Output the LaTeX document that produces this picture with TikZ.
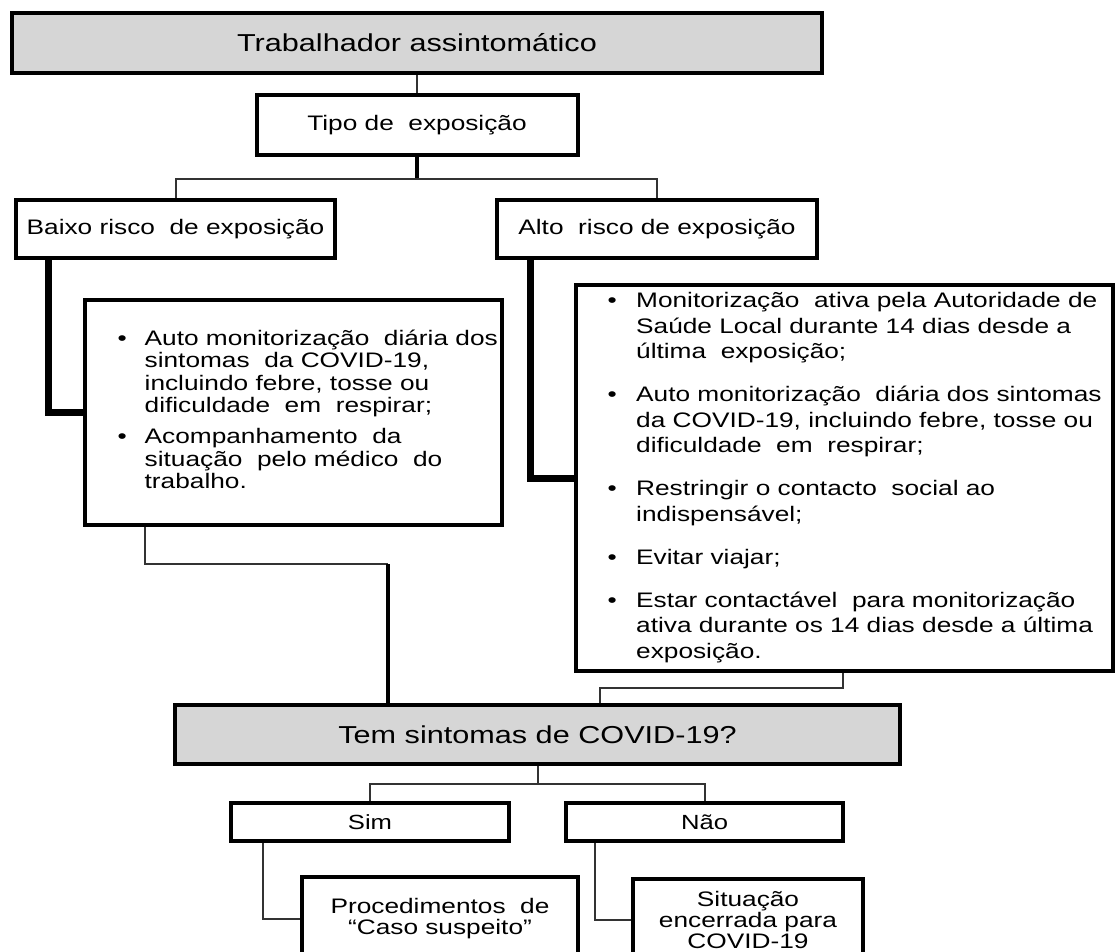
\documentclass[tikz,border=0pt]{standalone}
\usepackage{fontspec}
\setmainfont[FakeStretch=1.25]{Liberation Sans}

\begin{document}
\begin{tikzpicture}[x=1pt, y=-1pt,
  hd/.style={rectangle, draw=black, line width=4pt, fill=black!16, inner sep=0pt, font=\fontsize{24.5}{28}\selectfont},
  bx/.style={rectangle, draw=black, line width=4pt, fill=white, inner sep=0pt, align=center, font=\fontsize{21}{21}\selectfont},
  act/.style={rectangle, draw=black, line width=4pt, fill=white, inner ysep=0pt},
  ln/.style={line width=2pt, black!80},
  mid/.style={line width=3.5pt, black},
  fat/.style={line width=7pt, black}
]
\useasboundingbox (0,0) rectangle (1115,951);
\clip (0,0) rectangle (1115,951);
\node[hd, minimum width=810pt, minimum height=60pt] (trab) at (417,43) {Trabalhador assintomático};
\node[bx, minimum width=321pt, minimum height=60pt] (tipo) at (417,125) {Tipo de\ \ exposição};
\node[bx, minimum width=319pt, minimum height=58pt] (baixo) at (175.5,229) {Baixo risco\ \ de exposição};
\node[bx, minimum width=320pt, minimum height=58pt] (alto) at (657,229) {Alto\ \ risco de exposição};
\node[act, inner xsep=32.5pt, minimum height=225pt, font=\fontsize{21}{22.5}\selectfont] (baixoact) at (293.5,412.5) {\makebox[352pt][l]{\begin{tabular}{@{}l@{\hspace{18pt}}l@{}}
\textbullet & Auto monitorização\ \ diária dos\\
 & sintomas\ \ da COVID-19,\\
 & incluindo febre, tosse ou\\
 & dificuldade\ \ em\ \ respirar;\\[8.5pt]
\textbullet & Acompanhamento\ \ da\\
 & situação\ \ pelo médico\ \ do\\
 & trabalho.
\end{tabular}}};
\node[act, inner xsep=31.5pt, minimum height=386pt, font=\fontsize{21}{25.5}\selectfont] (altoact) at (844.5,478) {\makebox[474pt][l]{\begin{tabular}{@{}l@{\hspace{19.5pt}}l@{}}
\textbullet & Monitorização\ \ ativa pela Autoridade de\\
 & Saúde Local durante 14 dias desde a\\
 & última\ \ exposição;\\[17.5pt]
\textbullet & Auto monitorização\ \ diária dos sintomas\\
 & da COVID-19, incluindo febre, tosse ou\\
 & dificuldade\ \ em\ \ respirar;\\[17.5pt]
\textbullet & Restringir o contacto\ \ social ao\\
 & indispensável;\\[17.5pt]
\textbullet & Evitar viajar;\\[17.5pt]
\textbullet & Estar contactável\ \ para monitorização\\
 & ativa durante os 14 dias desde a última\\
 & exposição.
\end{tabular}}};
\node[hd, minimum width=725pt, minimum height=59pt] (sint) at (537.5,734.5) {Tem sintomas de COVID-19?};
\node[bx, minimum width=278pt, minimum height=38pt, font=\fontsize{20.5}{21}\selectfont] (sim) at (370,822) {Sim};
\node[bx, minimum width=277pt, minimum height=38pt, font=\fontsize{20.5}{21}\selectfont] (nao) at (704.5,822) {Não};
\node[bx, minimum width=276pt, minimum height=83pt] (proc) at (440,918.5) {Procedimentos\ \ de\\“Caso suspeito”};
\node[bx, minimum width=230pt, minimum height=81pt] (fim) at (748,919.5) {Situação\\encerrada para\\COVID-19};
\draw[ln] (trab.south) -- (tipo.north);
\draw[mid] (tipo.south) -- ++(0,22);
\draw[ln] (baixo.north) -- ++(0,-19) -| (alto.north);
\draw[fat] ([xshift=34pt]baixo.south west) |- (baixoact.west);
\draw[fat] ([xshift=35pt]alto.south west) |- (altoact.west);
\coordinate (jl) at (388,564);
\draw[ln] ([xshift=62pt]baixoact.south west) |- (jl);
\draw[mid] (jl) -- (jl |- sint.north);
\draw[ln] ([xshift=269pt]altoact.south west) -- ++(0,15) -| ([xshift=427pt]sint.north west);
\draw[ln] (sint.south) -- ++(0,18);
\draw[ln] (sim.north) -- ++(0,-17) -| (nao.north);
\draw[ln] ([xshift=34pt]sim.south west) |- (proc.west);
\draw[ln] ([xshift=31pt]nao.south west) |- (fim.west);
\end{tikzpicture}
\end{document}
